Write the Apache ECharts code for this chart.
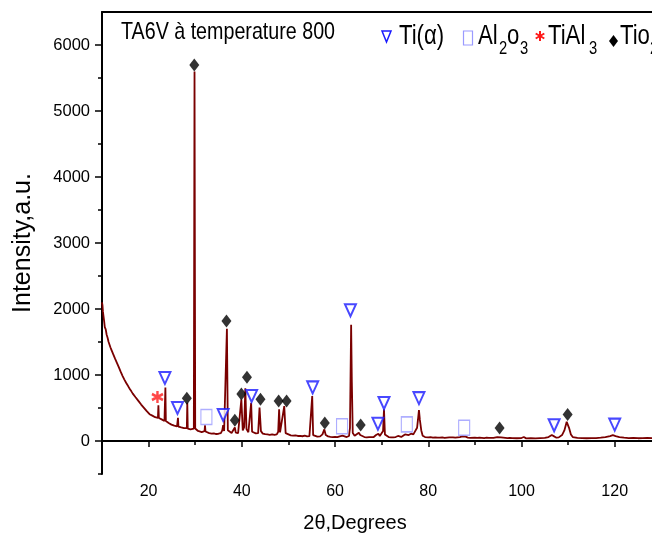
<!DOCTYPE html>
<html><head><meta charset="utf-8">
<script src="https://cdn.jsdelivr.net/npm/echarts@6/dist/echarts.min.js"></script>
<style>html,body{margin:0;padding:0;background:#fff}#c{width:652px;height:540px}</style>
</head><body><div id="c"></div>
<script>
// XRD scan: [2theta (deg), intensity (a.u.)]
const scanPoints = [
[10.0,2100],[10.1,2060],[10.2,1960],[10.3,1905],[10.45,1820],[10.6,1725],[10.8,1690],[11.0,1610],[11.2,1565],[11.4,1505],
[11.6,1475],[11.8,1420],[12.0,1385],[12.2,1350],[12.4,1315],[12.6,1290],[12.8,1248],[13.0,1222],[13.2,1185],[13.4,1155],
[13.6,1118],[13.8,1092],[14.0,1050],[14.2,1025],[14.4,988],[14.6,962],[14.8,930],[15.0,908],[15.2,878],[15.4,862],
[15.6,832],[15.8,812],[16.0,784],[16.3,752],[16.6,718],[16.9,694],[17.2,662],[17.5,634],[17.8,608],[18.1,582],
[18.4,552],[18.7,532],[19.0,503],[19.3,482],[19.6,452],[19.9,432],[20.2,406],[20.5,396],[20.8,384],[21.1,374],
[21.4,360],[21.7,356],[22.0,352],[22.1,540],[22.2,348],[22.5,342],[22.8,328],[23.1,312],[23.4,304],[23.5,312],
[23.6,810],[23.7,302],[24.0,290],[24.3,272],[24.6,258],[24.9,248],[25.2,242],[25.5,232],[25.8,226],[26.1,222],
[26.2,228],[26.3,352],[26.4,218],[26.7,212],[27.0,206],[27.3,198],[27.6,196],[27.9,188],[28.2,196],[28.3,580],
[28.4,188],[28.7,182],[29.0,176],[29.4,172],[29.7,186],[29.85,5600],[30.0,190],[30.3,164],[30.6,152],[31.0,142],
[31.4,136],[31.8,132],[32.0,148],[32.1,238],[32.2,144],[32.5,128],[33.0,120],[33.5,112],[34.0,114],[34.5,106],
[35.0,110],[35.5,118],[35.8,160],[36.0,242],[36.2,150],[36.5,142],[36.8,1700],[37.0,162],[37.3,134],[37.8,122],
[38.2,130],[38.5,205],[38.7,126],[39.2,120],[39.6,140],[39.9,630],[40.2,160],[40.5,210],[40.75,800],[41.0,180],
[41.4,132],[41.8,150],[42.0,580],[42.2,140],[42.6,122],[43.0,116],[43.5,120],[43.8,505],[44.1,150],[44.5,112],
[45.0,104],[45.5,100],[46.0,94],[46.5,100],[47.0,92],[47.5,100],[47.8,140],[48.0,480],[48.2,130],[48.6,110],
[49.1,530],[49.4,120],[49.8,90],[50.5,86],[51.0,80],[51.5,86],[52.0,76],[52.5,78],[53.0,72],[53.5,80],
[54.0,70],[54.5,74],[54.9,86],[55.1,680],[55.3,90],[55.7,70],[56.2,66],[56.8,70],[57.3,100],[57.7,176],
[58.0,90],[58.5,70],[59.0,64],[59.5,60],[60.0,62],[60.5,58],[61.0,70],[61.3,100],[61.6,80],[62.0,62],
[62.5,60],[63.0,76],[63.2,200],[63.45,1760],[63.6,900],[63.8,120],[64.2,80],[64.6,70],[65.1,126],[65.4,90],
[65.8,70],[66.3,60],[66.8,56],[67.3,60],[67.8,58],[68.3,60],[68.8,90],[69.0,70],[69.3,110],[69.6,76],
[70.0,70],[70.3,150],[70.5,480],[70.7,100],[71.0,70],[71.5,60],[72.0,56],[72.5,56],[73.0,60],[73.5,76],
[73.8,60],[74.2,62],[74.6,80],[75.0,100],[75.3,80],[75.8,90],[76.3,110],[76.8,100],[77.2,120],[77.6,200],
[77.8,330],[78.0,470],[78.2,320],[78.5,160],[78.8,80],[79.3,60],[80.0,56],[80.5,58],[81.0,50],[81.5,55],
[82.0,52],[82.5,50],[83.0,55],[83.5,48],[84.0,52],[84.5,55],[84.9,80],[85.3,55],[85.8,50],[86.3,55],
[86.8,60],[87.3,70],[87.6,85],[88.0,65],[88.5,52],[89.0,48],[90.0,50],[90.5,46],[91.0,52],[92.0,45],
[92.5,50],[93.0,46],[94.0,48],[94.8,60],[95.2,80],[95.6,55],[96.0,45],[97.0,42],[97.5,48],[98.0,45],
[99.0,42],[100.0,45],[100.5,60],[101.0,40],[102.0,42],[103.0,40],[104.0,44],[105.0,48],[105.8,60],[106.5,90],
[107.0,70],[107.5,50],[108.0,55],[108.7,90],[109.2,160],[109.7,290],[110.2,200],[110.6,100],[111.0,60],[112.0,48],
[113.0,45],[114.0,42],[115.0,44],[116.0,45],[117.0,50],[118.0,58],[119.0,75],[119.6,88],[120.2,75],[121.0,60],
[122.0,50],[123.0,45],[124.0,48],[125.0,42],[126.0,45],[127.0,48],[128.0,45]
];
// Phase marker positions [2theta, intensity]
const tiAlphaMarks = [[23.5,955],[26.2,500],[36.0,394],[42.1,682],[55.2,812],[63.3,1980],[69.2,262],[70.5,575],[78.0,650],[107.0,238],[120.0,248]];
const al2o3Marks = [[32.4,364],[61.5,222],[75.4,252],[87.7,202]];
const tial3Marks = [[21.9,667]];
const tio2Marks = [[28.2,647],[29.8,5697],[36.7,1818],[38.5,316],[39.9,712],[41.1,965],[44.0,631],[47.9,606],[49.6,606],[57.8,272],[65.5,242],[95.3,197],[109.9,400]];
// Axis ticks
const xMajorTicks = [20,40,60,80,100,120];
const xMinorTicks = [10,30,50,70,90,110];
const yMajorTicks = [0,1000,2000,3000,4000,5000,6000];
const yMinorTicks = [-500,500,1500,2500,3500,4500,5500];

const REG = "'Liberation Sans',Arial,sans-serif";
const NX = 0.82; // horizontal condensing for the narrow legend font
const chart = echarts.init(document.getElementById('c'), null, {renderer:'canvas'});
const axisLine = {show:true, lineStyle:{color:'#000', width:2}};
function txt(t, x, y, size, extra) {
  return Object.assign({type:'text', x:x, y:y, scaleX:NX, originX:0, originY:0,
    style:{text:t, x:0, y:0, font:size+'px '+REG, fill:'#000', align:'left', verticalAlign:'middle'}}, extra||{});
}
const option = {
  animation:false,
  backgroundColor:'#fff',
  grid:{left:102, right:0, top:12, bottom:66, containLabel:false, outerBoundsMode:'none'},
  xAxis:[
    {type:'value', position:'bottom', min:10, max:128, axisLine:axisLine, splitLine:{show:false},
     axisTick:{show:true, customValues:xMajorTicks, length:6, lineStyle:{color:'#000', width:1.5}},
     axisLabel:{show:true, customValues:xMajorTicks, color:'#000', fontSize:16, fontFamily:REG, margin:10,
       formatter:function(v){return String(v);}},
     name:'2θ,Degrees', nameLocation:'middle', nameGap:39,
     nameTextStyle:{color:'#000', fontSize:20, fontFamily:REG, padding:[0,44,0,0]}},
    {type:'value', position:'bottom', min:10, max:128, axisLine:{show:false}, splitLine:{show:false},
     axisTick:{show:true, customValues:xMinorTicks, length:4, lineStyle:{color:'#000', width:1.5}},
     axisLabel:{show:false}},
    {type:'value', position:'top', min:10, max:128, axisLine:axisLine, splitLine:{show:false},
     axisTick:{show:false}, axisLabel:{show:false}}
  ],
  yAxis:[
    {type:'value', position:'left', min:-500, max:6500, axisLine:axisLine, splitLine:{show:false},
     axisTick:{show:true, customValues:yMajorTicks, length:7, lineStyle:{color:'#000', width:1.5}},
     axisLabel:{show:true, customValues:yMajorTicks, color:'#000', fontSize:16.5, fontFamily:REG, margin:12,
       formatter:function(v){return String(v);}},
     name:'Intensity,a.u.', nameLocation:'middle', nameGap:66, nameRotate:90,
     nameTextStyle:{color:'#000', fontSize:25, fontFamily:REG}},
    {type:'value', position:'left', min:-500, max:6500, axisLine:{show:false}, splitLine:{show:false},
     axisTick:{show:true, customValues:yMinorTicks, length:4, lineStyle:{color:'#000', width:1.5}},
     axisLabel:{show:false}}
  ],
  series:[
    {type:'line', data:scanPoints, showSymbol:false, symbol:'none', lineStyle:{color:'#7a0000', width:1.8}, z:2, silent:true},
    {type:'scatter', data:tiAlphaMarks, symbol:'emptyTriangle', symbolRotate:180, symbolSize:[11,12],
     itemStyle:{color:'#1a1aff', borderColor:'#1a1aff', borderWidth:1.5}, z:5},
    {type:'scatter', data:al2o3Marks, symbol:'rect', symbolSize:[11,15],
     itemStyle:{color:'rgba(255,255,255,0)', borderColor:'#9a9aff', borderWidth:1.3}, z:5},
    {type:'scatter', data:tial3Marks, symbol:'path://M5,0L5,10M0.67,2.5L9.33,7.5M0.67,7.5L9.33,2.5', symbolSize:[11,12],
     itemStyle:{color:'rgba(0,0,0,0)', borderColor:'#ff1a1a', borderWidth:2.5}, z:5},
    {type:'scatter', data:tio2Marks, symbol:'diamond', symbolSize:[10,13],
     itemStyle:{color:'#000'}, z:5}
  ],
  graphic:[
    txt('TA6V à temperature 800', 121, 32.7, 24),
    {type:'polygon', shape:{points:[[382,31],[391,31],[386.5,42]]}, style:{fill:'none', stroke:'#1a1aff', lineWidth:1.5}},
    txt('Ti(α)', 399, 36.6, 27),
    {type:'rect', shape:{x:463.5, y:31, width:9, height:14}, style:{fill:'none', stroke:'#9a9aff', lineWidth:1.2}},
    txt('Al', 478, 36.6, 27),
    txt('2', 499, 48.8, 18),
    txt('o', 507, 36.6, 27),
    txt('3', 520, 48.8, 18),
    {type:'line', shape:{x1:540, y1:31, x2:540, y2:41}, style:{stroke:'#ff1a1a', lineWidth:2}},
    {type:'line', shape:{x1:535.7, y1:33.5, x2:544.3, y2:38.5}, style:{stroke:'#ff1a1a', lineWidth:2}},
    {type:'line', shape:{x1:535.7, y1:38.5, x2:544.3, y2:33.5}, style:{stroke:'#ff1a1a', lineWidth:2}},
    txt('TiAl', 548, 36.6, 27),
    txt('3', 589, 48.8, 18),
    {type:'polygon', shape:{points:[[613.5,35],[618,41],[613.5,47],[609,41]]}, style:{fill:'#000'}},
    txt('Tio', 620, 36.6, 27),
    txt('2', 650, 48.8, 18)
  ]
};
chart.setOption(option);
</script></body></html>
